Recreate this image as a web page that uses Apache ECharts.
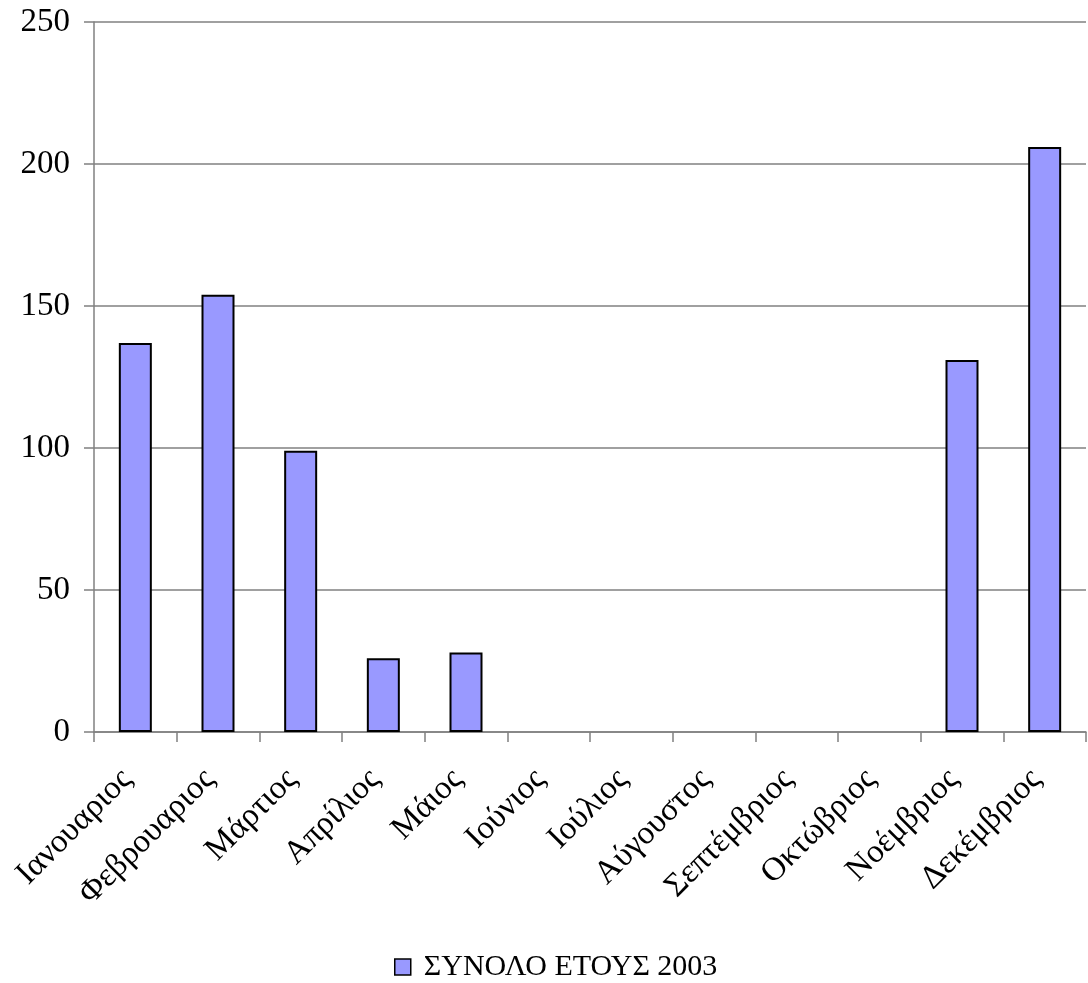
<!DOCTYPE html>
<html>
<head>
<meta charset="utf-8">
<script src="https://cdn.jsdelivr.net/npm/echarts@6/dist/echarts.min.js"></script>
<style>
  html, body { margin: 0; padding: 0; background: #fff; }
  #chart { width: 1088px; height: 983px; }
</style>
</head>
<body>
<div id="chart"></div>
<script>
// Months of the year (Greek)
const months = ['Ιανουαριος', 'Φεβρουαριος', 'Μάρτιος', 'Απρίλιος', 'Μάιος', 'Ιούνιος',
  'Ιούλιος', 'Αύγουστος', 'Σεπτέμβριος', 'Οκτώβριος', 'Νοέμβριος', 'Δεκέμβριος'];
// Monthly totals for 2003
const totals2003 = [137, 154, 99, 26, 28, 0, 0, 0, 0, 0, 131, 206];
const seriesName = 'ΣΥΝΟΛΟ ΕΤΟΥΣ 2003';
const yMin = 0, yMax = 250, yStep = 50;

const font = '"Liberation Serif", "Times New Roman", serif';
const labelSize = 33;

// Empty months get no outline, so nothing is drawn on the axis for them
const barData = totals2003.map(v => v === 0
  ? { value: v, itemStyle: { borderWidth: 0 } }
  : v);

const chart = echarts.init(document.getElementById('chart'), null, { renderer: 'canvas' });
chart.setOption({
  animation: false,
  backgroundColor: '#ffffff',
  textStyle: { fontFamily: font, color: '#000' },
  grid: { left: 94, right: 2, top: 22, bottom: 251, containLabel: false },
  legend: {
    bottom: -4,
    left: 389,
    icon: 'rect',
    itemWidth: 16,
    itemHeight: 16,
    itemGap: 10,
    textStyle: { fontFamily: font, fontSize: 30, color: '#000', padding: [0, 0, 0, 8] },
    data: [{ name: seriesName, itemStyle: { borderColor: '#000', borderWidth: 1.5 } }]
  },
  xAxis: {
    type: 'category',
    data: months,
    boundaryGap: true,
    axisLine: { lineStyle: { color: '#808080', width: 1.5 } },
    axisTick: { show: true, length: 10, alignWithLabel: false, lineStyle: { color: '#808080', width: 1.5 } },
    axisLabel: {
      interval: 0, rotate: 45, margin: 34,
      padding: [0, 12, 0, 0],
      fontFamily: font, fontSize: labelSize, color: '#000'
    },
    splitLine: { show: false }
  },
  yAxis: {
    type: 'value',
    min: yMin, max: yMax, interval: yStep,
    axisLine: { show: true, lineStyle: { color: '#808080', width: 1.5 } },
    axisTick: { show: true, length: 10, inside: false, lineStyle: { color: '#808080', width: 1.5 } },
    axisLabel: { margin: 24, fontFamily: font, fontSize: labelSize, color: '#000' },
    splitLine: { show: true, lineStyle: { color: '#808080', width: 1.5 } }
  },
  series: [{
    name: seriesName,
    type: 'bar',
    data: barData,
    barWidth: 33,
    itemStyle: { color: '#9999ff', borderColor: '#000', borderWidth: 2 }
  }]
});
</script>
</body>
</html>
